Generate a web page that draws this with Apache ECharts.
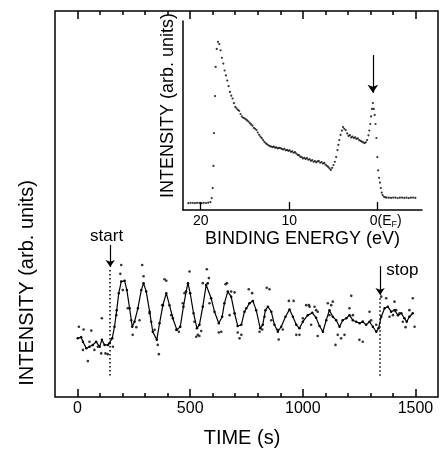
<!DOCTYPE html>
<html>
<head>
<meta charset="utf-8">
<script src="https://cdn.jsdelivr.net/npm/echarts@6/dist/echarts.min.js"></script>
<style>
html,body{margin:0;padding:0;background:#fff;}
#chart{width:441px;height:453px;}
</style>
</head>
<body>
<div id="chart"></div>
<script>
// ---------- main panel: intensity vs time ----------
const lineTime = [1,16,24,39,53,68,83,98,108,120,135,142,154,164,174,183,194,209,219,231,243,253,268,283,293,305,320,334,352,364,379,394,408,423,441,456,470,482,490,500,515,530,541,556,571,578,593,608,627,642,652,667,682,697,711,727,741,763,778,793,811,822,834,845,860,874,889,904,923,941,956,971,985,1000,1022,1042,1059,1074,1089,1104,1118,1133,1148,1163,1177,1193,1207,1222,1237,1252,1266,1281,1296,1311,1326,1336,1348,1363,1377,1392,1407,1422,1437,1451,1461,1473,1488];
const lineIntensity = [15.2,15.5,14.3,12.6,13.0,13.5,14.3,13.0,14.8,13.5,13.5,13.9,15.2,18.2,22.5,26.9,29.9,30.1,27.7,23.0,18.2,19.5,23.0,27.7,29.5,27.3,22.1,16.9,14.8,19.1,23.8,26.9,23.8,20.4,17.4,18.2,23.4,27.3,29.5,26.9,21.7,17.8,18.7,23.4,29.0,29.5,25.6,22.1,19.1,20.8,24.3,27.3,26.0,21.7,18.4,18.7,22.1,24.3,24.9,22.5,17.8,18.7,22.5,23.4,22.1,18.7,16.9,18.2,20.8,22.7,20.8,18.7,17.8,19.5,21.2,21.8,20.5,18.4,16.9,19.9,22.5,20.8,19.9,18.2,19.9,20.4,21.2,19.9,19.5,19.1,19.5,18.7,19.5,18.2,16.9,17.8,20.8,23.0,23.4,22.1,22.5,21.2,21.7,20.4,19.5,20.8,21.7];
const rawTime = [6,27,61,108,46,24,75,105,124,134,90,53,157,194,190,287,293,386,394,497,245,356,361,261,342,438,450,172,201,223,238,275,320,327,376,416,467,475,519,527,574,583,556,534,541,549,627,638,657,663,682,697,760,775,711,719,727,840,852,808,820,889,893,911,938,959,971,985,1015,1027,1052,1059,1066,1000,1037,675,749,586,830,860,1030,1066,1111,1126,1133,1118,1155,1170,1185,1145,1207,1215,1222,1251,1266,1266,1296,1303,1326,1348,1370,1385,1407,1414,1400,1444,1456,1473,1488,1496,1429];
const rawIntensity = [18.2,17.5,17.2,20.4,9.3,12.2,12.2,11.3,11.3,11.1,13.0,14.3,13.0,34.2,31.9,34.2,31.3,30.5,30.1,32.5,16.1,13.5,11.1,18.1,17.4,17.4,16.9,21.2,27.7,23.0,19.9,19.9,21.7,19.5,23.8,21.2,24.3,26.9,19.5,15.6,33.1,30.8,29.5,16.1,15.8,17.1,16.7,16.9,29.2,29.5,27.3,27.1,27.9,26.9,16.7,15.2,16.1,28.3,27.9,16.9,17.5,17.4,14.9,17.5,24.9,24.9,16.1,16.1,23.8,23.8,23.4,22.5,15.8,20.4,18.7,21.2,23.0,24.3,20.8,19.9,23.4,22.1,24.3,23.8,24.7,21.2,16.1,15.2,16.1,13.5,23.0,26.2,21.2,14.8,14.3,19.5,22.1,19.9,18.7,26.0,25.6,20.8,24.7,22.5,21.2,19.5,18.1,22.5,25.6,18.2,21.7];
const timeMinorTicks = [0,100,200,300,400,500,600,700,800,900,1000,1100,1200,1300,1400,1500];
const timeMajorTicks = [0,500,1000,1500];
// annotations (time, intensity)
const startTime = 145, stopTime = 1343;
const startArrow = [39.4, 33.7], startDotted = [32.9, 5.2];
const stopArrow = [33.9, 26.4], stopDotted = [25.6, 5.2];
const startLabel = [129, 41.7], stopLabel = [1442, 32.9];

// ---------- inset: photoemission spectrum ----------
const bindingEnergy = [21.4,21.15,20.9,20.65,20.4,20.15,19.9,19.65,19.4,19.15,18.9,18.76,18.64,18.56,18.5,18.38,18.31,18.19,18.05,17.9,17.75,17.6,17.45,17.3,17.15,17.0,16.85,16.7,16.55,16.4,16.25,16.1,15.95,15.8,15.65,15.5,15.35,15.2,15.05,14.9,14.75,14.6,14.45,14.3,14.15,14.0,13.85,13.7,13.55,13.4,13.25,13.1,12.95,12.8,12.65,12.5,12.35,12.2,12.05,11.9,11.75,11.6,11.45,11.3,11.15,11.0,10.85,10.7,10.55,10.4,10.25,10.1,9.95,9.8,9.65,9.5,9.35,9.2,9.05,8.9,8.75,8.6,8.45,8.3,8.15,8.0,7.85,7.7,7.55,7.4,7.25,7.1,6.95,6.8,6.65,6.5,6.35,6.2,6.05,5.9,5.75,5.6,5.45,5.3,5.15,5.0,4.85,4.7,4.55,4.45,4.35,4.2,4.05,3.92,3.78,3.62,3.45,3.3,3.15,3.0,2.85,2.7,2.55,2.4,2.25,2.1,1.95,1.8,1.65,1.5,1.35,1.2,1.05,0.95,0.85,0.75,0.65,0.55,0.45,0.35,0.25,0.15,0.05,-0.05,-0.15,-0.25,-0.35,-0.45,-0.55,-0.7,-0.85,-1.0,-1.25,-1.5,-1.75,-2.0,-2.25,-2.5,-2.75,-3.0,-3.25,-3.5,-3.75,-4.0,-4.25];
const spectrumIntensity = [3.6,3.8,3.7,3.6,3.8,3.7,3.6,3.8,3.7,3.9,4.2,6.3,11.6,23.3,40.7,60.3,75.7,85.2,89.0,87.8,84.5,80.5,77.5,73.8,71.2,68.5,65.5,62.5,60.5,59.0,56.5,54.6,53.8,53.0,52.5,50.8,49.5,48.8,48.5,48.0,47.4,46.8,46.0,45.3,44.6,43.5,43.0,42.3,41.0,39.8,38.8,38.0,37.0,36.0,35.3,34.8,34.2,33.8,33.6,33.3,33.5,33.0,33.1,32.6,32.9,32.8,32.3,32.0,32.4,31.6,31.8,31.3,31.5,30.8,31.0,30.3,30.6,29.9,29.2,29.0,28.2,28.0,27.3,27.6,27.0,27.4,26.6,26.9,26.0,26.4,25.5,25.9,25.2,25.7,25.9,25.0,25.4,24.6,24.9,24.0,23.4,22.8,22.0,21.2,22.3,23.8,25.5,28.0,31.7,34.5,37.0,39.7,42.0,43.9,43.0,42.3,40.5,39.2,39.6,38.4,38.8,38.1,38.4,37.6,37.9,37.0,36.6,36.2,35.8,35.4,35.8,37.0,39.5,42.0,45.5,49.5,53.5,56.6,53.5,50.3,45.5,38.1,28.0,21.0,17.0,14.5,11.6,9.2,7.9,7.0,6.7,6.6,6.5,6.4,6.6,6.5,6.3,6.5,6.6,6.4,6.5,6.3,6.5,6.6,6.4];
const energyTicks = [0,10,20];
const fermiArrowE = 0.55, fermiArrow = [82, 62];

const FONT = "'Liberation Sans', Arial, Helvetica, sans-serif";
const zip = (a, b) => a.map((v, i) => [v, b[i]]);

const chart = echarts.init(document.getElementById('chart'), null, {renderer: 'canvas'});

function timeAxis(position, ticks, len, withLabels) {
  const ax = {
    type: 'value', gridIndex: 0, position: position, min: -100, max: 1600,
    axisLine: {show: false},
    splitLine: {show: false},
    axisTick: {show: true, inside: true, length: len, customValues: ticks,
               lineStyle: {color: '#000', width: 1.5}},
    axisLabel: {show: withLabels, customValues: timeMajorTicks, color: '#000',
                fontSize: 16, fontFamily: FONT, margin: 4, formatter: v => String(v)}
  };
  if (withLabels) {
    ax.name = 'TIME (s)';
    ax.nameLocation = 'middle';
    ax.nameGap = 31;
    ax.nameTextStyle = {color: '#000', fontSize: 20, fontFamily: FONT, padding: [0, 9, 0, 0]};
  }
  return ax;
}

const option = {
  animation: false,
  backgroundColor: '#fff',
  grid: [
    {left: 55, right: 3, top: 11, bottom: 56, show: true, borderColor: '#000', borderWidth: 1.5, backgroundColor: 'transparent'},
    {left: 183, top: 21, width: 239, height: 189, show: false}
  ],
  xAxis: [
    timeAxis('bottom', timeMinorTicks, 4, true),
    timeAxis('bottom', timeMajorTicks, 8, false),
    timeAxis('top', timeMinorTicks, 4, false),
    timeAxis('top', timeMajorTicks, 8, false),
    {
      type: 'value', gridIndex: 1, min: -5, max: 22, inverse: true,
      axisLine: {show: true, onZero: false, lineStyle: {color: '#000', width: 1.5}},
      splitLine: {show: false},
      axisTick: {show: true, inside: true, length: 8, customValues: energyTicks, lineStyle: {color: '#000', width: 1.3}},
      axisLabel: {
        customValues: energyTicks, color: '#000', fontSize: 14, fontFamily: FONT, margin: 4,
        formatter: v => v === 0 ? '{sp|}0(E{s|F})' : String(v),
        rich: {sp: {width: 16}, s: {fontSize: 9, fontFamily: FONT, color: '#000', verticalAlign: 'bottom', padding: [6, 0, 0, 0]}}
      },
      name: 'BINDING ENERGY (eV)', nameLocation: 'middle', nameGap: 18,
      nameTextStyle: {color: '#000', fontSize: 18, fontFamily: FONT}
    }
  ],
  yAxis: [
    {
      type: 'value', gridIndex: 0, min: 0, max: 100,
      axisLine: {show: false}, axisTick: {show: false}, axisLabel: {show: false}, splitLine: {show: false},
      name: 'INTENSITY (arb. units)', nameLocation: 'middle', nameGap: 18,
      nameTextStyle: {color: '#000', fontSize: 20, fontFamily: FONT, padding: [0, 158, 0, 0]}
    },
    {
      type: 'value', gridIndex: 1, min: 0, max: 100,
      axisLine: {show: true, onZero: false, lineStyle: {color: '#000', width: 1.5}},
      axisTick: {show: false}, axisLabel: {show: false}, splitLine: {show: false},
      name: 'INTENSITY (arb. units)', nameLocation: 'middle', nameGap: 6,
      nameTextStyle: {color: '#000', fontSize: 18, fontFamily: FONT, padding: [0, 0, 0, 20]}
    }
  ],
  series: [
    {
      type: 'line', xAxisIndex: 0, yAxisIndex: 0,
      data: zip(lineTime, lineIntensity),
      showSymbol: true, symbol: 'circle', symbolSize: 2.5,
      itemStyle: {color: '#000'},
      lineStyle: {color: '#000', width: 1.2},
      markLine: {
        silent: true, animation: false, symbol: ['none', 'none'], symbolSize: 7,
        label: {show: false},
        lineStyle: {color: '#000', width: 1.2, type: 'solid'},
        data: [
          [{coord: [startTime, startArrow[0]]}, {coord: [startTime, startArrow[1]], symbol: 'arrow', symbolSize: 7}],
          [{coord: [startTime, startDotted[0]], lineStyle: {type: [1.5, 2.5], width: 1.5}}, {coord: [startTime, startDotted[1]]}],
          [{coord: [stopTime, stopArrow[0]]}, {coord: [stopTime, stopArrow[1]], symbol: 'arrow', symbolSize: 7}],
          [{coord: [stopTime, stopDotted[0]], lineStyle: {type: [1.5, 2.5], width: 1.5}}, {coord: [stopTime, stopDotted[1]]}]
        ]
      },
      markPoint: {
        silent: true, symbol: 'circle', symbolSize: 0,
        label: {show: true, position: 'inside', formatter: '{b}', color: '#000', fontSize: 17, fontFamily: FONT},
        data: [
          {name: 'start', coord: startLabel},
          {name: 'stop', coord: stopLabel}
        ]
      }
    },
    {
      type: 'scatter', xAxisIndex: 0, yAxisIndex: 0,
      data: zip(rawTime, rawIntensity),
      symbol: 'circle', symbolSize: 2.6,
      itemStyle: {color: '#000'}
    },
    {
      type: 'scatter', xAxisIndex: 4, yAxisIndex: 1,
      data: zip(bindingEnergy, spectrumIntensity),
      symbol: 'circle', symbolSize: 2.2,
      itemStyle: {color: '#000'},
      markLine: {
        silent: true, animation: false, symbol: ['none', 'arrow'], symbolSize: 8,
        label: {show: false},
        lineStyle: {color: '#000', width: 1.2, type: 'solid'},
        data: [[{coord: [fermiArrowE, fermiArrow[0]]}, {coord: [fermiArrowE, fermiArrow[1]]}]]
      }
    }
  ]
};
chart.setOption(option);
</script>
</body>
</html>
